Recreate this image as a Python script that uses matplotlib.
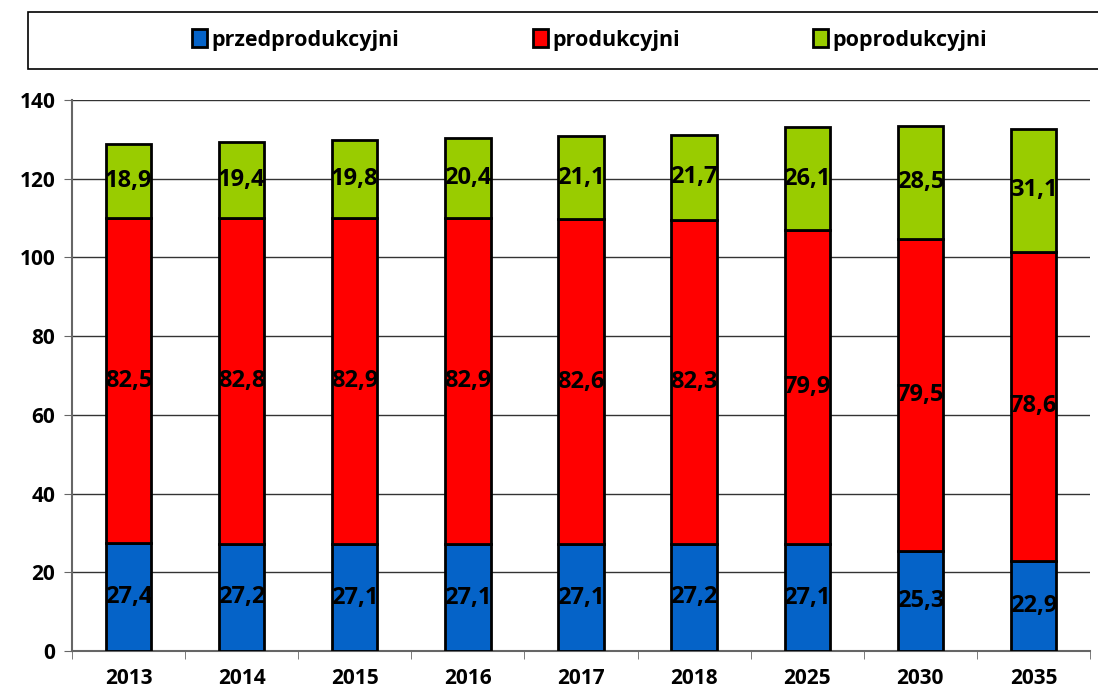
import numpy as np
import matplotlib
matplotlib.use("Agg")
from matplotlib import pyplot as plt
from matplotlib.patches import Rectangle

plt.rcParams['font.family'] = ['Open Sans', 'DejaVu Sans']

years = ['2013', '2014', '2015', '2016', '2017', '2018', '2025', '2030', '2035']
przed = [27.4, 27.2, 27.1, 27.1, 27.1, 27.2, 27.1, 25.3, 22.9]
prod = [82.5, 82.8, 82.9, 82.9, 82.6, 82.3, 79.9, 79.5, 78.6]
popr = [18.9, 19.4, 19.8, 20.4, 21.1, 21.7, 26.1, 28.5, 31.1]
names = ['przedprodukcyjni', 'produkcyjni', 'poprodukcyjni']
colors = ['#0563C8', '#FF0000', '#99CC00']

fig = plt.figure(figsize=(10.98, 6.93), dpi=100)
ax = fig.add_axes([0.0656, 0.0606, 0.9271, 0.7951])

x = np.arange(len(years))
series = [przed, prod, popr]
bottom = np.zeros(len(years))
handles = []
for vals, col, name in zip(series, colors, names):
    bars = ax.bar(x, vals, 0.4, bottom=bottom, color=col, edgecolor='black',
                  linewidth=2, label=name, zorder=3)
    handles.append(bars)
    for xi, b, v in zip(x, bottom, vals):
        ax.text(xi, b + v / 2, f'{v:.1f}'.replace('.', ','), ha='center', va='center',
                fontsize=17, fontweight='bold', zorder=4)
    bottom += np.array(vals)

ax.set_xlim(-0.5, len(years) - 0.5)
ax.set_ylim(0, 140)
ax.set_yticks(range(0, 141, 20))
ax.yaxis.grid(True, color='#333333', linewidth=1, zorder=0)
ax.set_xticks(x)
ax.set_xticklabels(years, fontsize=15, fontweight='bold')
ax.set_xticks(np.arange(-0.5, len(years), 1), minor=True)
ax.tick_params(axis='x', which='major', length=0, pad=12)
ax.tick_params(axis='x', which='minor', length=6, color='#666666')
ax.tick_params(axis='y', length=6, color='#666666', labelsize=15, pad=6)
for lab in ax.get_yticklabels():
    lab.set_fontweight('bold')
for s in ['top', 'right']:
    ax.spines[s].set_visible(False)
ax.spines['left'].set_color('#666666')
ax.spines['bottom'].set_color('#666666')
ax.spines['left'].set_linewidth(1.5)
ax.spines['bottom'].set_linewidth(1.5)

# legend box
fig.patches.append(Rectangle((28 / 1098, 1 - 69 / 693), 1.0, 57 / 693,
                             transform=fig.transFigure, facecolor='white',
                             edgecolor='black', linewidth=1.2))
leg = fig.legend(handles=handles, labels=names, loc='center',
                 bbox_to_anchor=(0.537, 1 - 40 / 693), ncol=3, frameon=False,
                 prop={'size': 15.5, 'weight': 'bold'}, handlelength=0.7,
                 handleheight=0.9, handletextpad=0.2, columnspacing=6.2)

fig.savefig('out.png', dpi=100)
